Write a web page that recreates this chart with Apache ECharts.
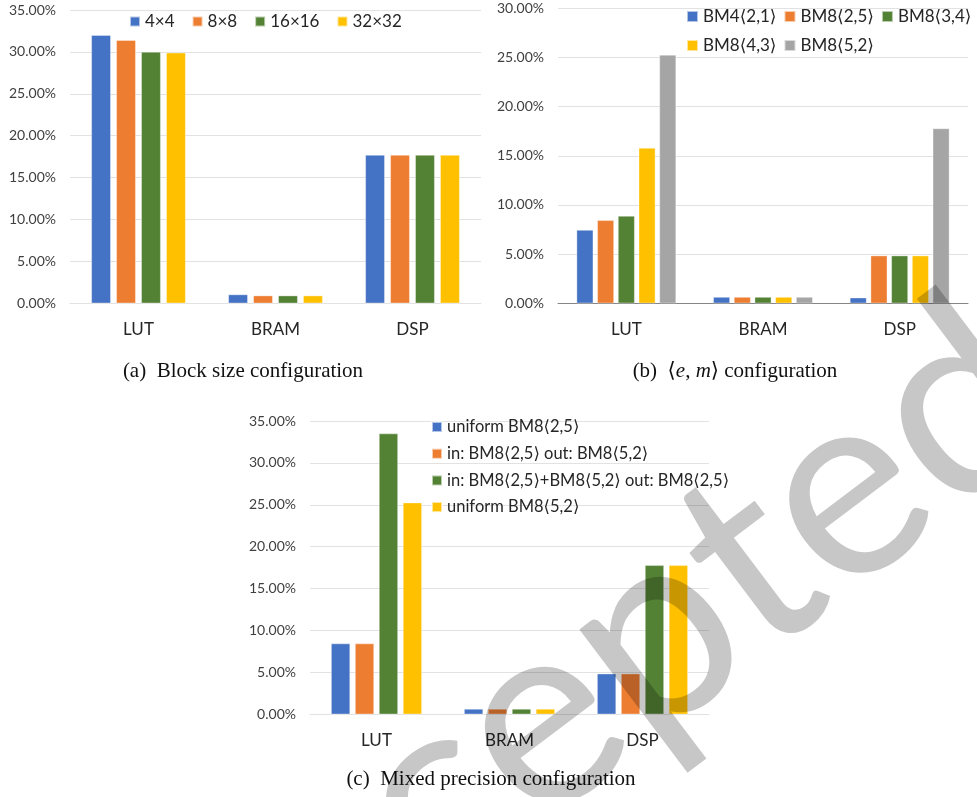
<!DOCTYPE html>
<html>
<head>
<meta charset="utf-8">
<script src="https://cdn.jsdelivr.net/npm/echarts@6/dist/echarts.min.js"></script>
<style>
  html, body { margin: 0; padding: 0; background: #fff; }
  #chart { width: 977px; height: 797px; }
</style>
</head>
<body>
<div id="chart"></div>
<script>
// Resource categories shared by all three panels
const resources = ['LUT', 'BRAM', 'DSP'];

// (a) block size configuration, utilisation in %
const blockNames = ['4×4', '8×8', '16×16', '32×32'];
const block4 = [32.0, 1.05, 17.7];
const block8 = [31.4, 0.92, 17.7];
const block16 = [30.0, 0.92, 17.7];
const block32 = [29.9, 0.92, 17.7];

// (b) <e,m> configuration, utilisation in %
const emNames = ['BM4⟨2,1⟩', 'BM8⟨2,5⟩', 'BM8⟨3,4⟩', 'BM8⟨4,3⟩', 'BM8⟨5,2⟩'];
const bm4_21 = [7.45, 0.64, 0.57];
const bm8_25 = [8.44, 0.64, 4.85];
const bm8_34 = [8.88, 0.64, 4.85];
const bm8_43 = [15.8, 0.64, 4.85];
const bm8_52 = [25.26, 0.64, 17.78];

// (c) mixed precision configuration, utilisation in %
const mixNames = ['uniform BM8⟨2,5⟩', 'in: BM8⟨2,5⟩ out: BM8⟨5,2⟩',
                  'in: BM8⟨2,5⟩+BM8⟨5,2⟩ out: BM8⟨2,5⟩', 'uniform BM8⟨5,2⟩'];
const uniform25 = [8.44, 0.64, 4.85];
const in25out52 = [8.44, 0.64, 4.85];
const in2552out25 = [33.5, 0.64, 17.78];
const uniform52 = [25.26, 0.64, 17.78];

// y-axis tick values
const tickStep = 5;

const BLUE = '#4472C4', ORANGE = '#ED7D31', GREEN = '#548235', GOLD = '#FFC000', GREY = '#A5A5A5';
const SANS = 'Lato, "DejaVu Sans", sans-serif';
const SERIF = '"Liberation Serif", "DejaVu Serif", serif';

const pct = v => v.toFixed(2) + '%';

function yAxis(grid, max) {
  return {
    type: 'value', gridIndex: grid, min: 0, max: max, interval: tickStep,
    axisLine: { show: false }, axisTick: { show: false },
    splitLine: { lineStyle: { color: '#e2e2e2', width: 1 } },
    axisLabel: { formatter: pct, fontFamily: SANS, fontSize: 14, color: '#404040', margin: 14 }
  };
}
function xAxis(grid, lineColor) {
  return {
    type: 'category', gridIndex: grid, data: resources,
    axisTick: { show: false },
    axisLine: { show: true, lineStyle: { color: lineColor, width: 1 } },
    axisLabel: { fontFamily: SANS, fontSize: 17, color: '#262626', margin: 18 }
  };
}
function bars(name, data, color, axis, width, gap) {
  return {
    type: 'bar', name: name, data: data, xAxisIndex: axis, yAxisIndex: axis,
    barWidth: width, barGap: gap,
    itemStyle: { color: color, borderColor: 'rgba(255,255,255,0.6)', borderWidth: 0.6 },
    emphasis: { disabled: true }
  };
}

const legendText = { fontFamily: SANS, fontSize: 17, color: '#262626' };

const chart = echarts.init(document.getElementById('chart'), null, { renderer: 'canvas' });
chart.setOption({
  animation: false,
  backgroundColor: '#ffffff',
  grid: [
    { left: 70, top: 10, width: 411, height: 293.3 },
    { left: 558, top: 8.3, width: 410, height: 295 },
    { left: 310, top: 421, width: 399, height: 293.3 }
  ],
  xAxis: [xAxis(0, '#e2e2e2'), xAxis(1, '#868686'), xAxis(2, '#e2e2e2')],
  yAxis: [yAxis(0, 35), yAxis(1, 30), yAxis(2, 35)],
  legend: [
    { data: blockNames, left: 124, top: 8, itemWidth: 10, itemHeight: 10, itemGap: 17,
      icon: 'rect', textStyle: legendText },
    { data: emNames.slice(0, 3), left: 681, top: 3, itemWidth: 11, itemHeight: 11, itemGap: 7,
      icon: 'rect', textStyle: legendText },
    { data: emNames.slice(3), left: 681, top: 32, itemWidth: 11, itemHeight: 11, itemGap: 7,
      icon: 'rect', textStyle: legendText },
    { data: mixNames, orient: 'vertical', left: 426, top: 412, itemWidth: 10, itemHeight: 10,
      itemGap: 6.7, icon: 'rect',
      textStyle: Object.assign({}, legendText, { fontSize: 16.5, lineHeight: 20 }) }
  ],
  series: [
    bars(blockNames[0], block4, BLUE, 0, 19.5, '28%'),
    bars(blockNames[1], block8, ORANGE, 0, 19.5, '28%'),
    bars(blockNames[2], block16, GREEN, 0, 19.5, '28%'),
    bars(blockNames[3], block32, GOLD, 0, 19.5, '28%'),

    bars(emNames[0], bm4_21, BLUE, 1, 16.7, '24%'),
    bars(emNames[1], bm8_25, ORANGE, 1, 16.7, '24%'),
    bars(emNames[2], bm8_34, GREEN, 1, 16.7, '24%'),
    bars(emNames[3], bm8_43, GOLD, 1, 16.7, '24%'),
    bars(emNames[4], bm8_52, GREY, 1, 16.7, '24%'),

    bars(mixNames[0], uniform25, BLUE, 2, 19, '26%'),
    bars(mixNames[1], in25out52, ORANGE, 2, 19, '26%'),
    bars(mixNames[2], in2552out25, GREEN, 2, 19, '26%'),
    bars(mixNames[3], uniform52, GOLD, 2, 19, '26%')
  ],
  graphic: [
    { type: 'text', x: 243, y: 371, silent: true,
      style: { text: '(a)  Block size configuration', font: '21px ' + SERIF, fill: '#111',
               align: 'center', verticalAlign: 'middle' } },
    { type: 'text', x: 735, y: 371, silent: true,
      style: { text: '(b)  ⟨{i|e}, {i|m}⟩ configuration', font: '21px ' + SERIF, fill: '#111',
               align: 'center', verticalAlign: 'middle',
               rich: { i: { fontStyle: 'italic', fontFamily: SERIF, fontSize: 21, fill: '#111' } } } },
    { type: 'text', x: 491, y: 779, silent: true,
      style: { text: '(c)  Mixed precision configuration', font: '21px ' + SERIF, fill: '#111',
               align: 'center', verticalAlign: 'middle' } },
    // diagonal "Accepted" stamp across the page
    { type: 'text', x: 580, y: 690, rotation: 37 * Math.PI / 180, z: 100, silent: true,
      style: { text: 'Accepted', font: '265px ' + SANS, fill: 'rgba(0,0,0,0.22)',
               align: 'center', verticalAlign: 'middle' } }
  ]
});
</script>
</body>
</html>
